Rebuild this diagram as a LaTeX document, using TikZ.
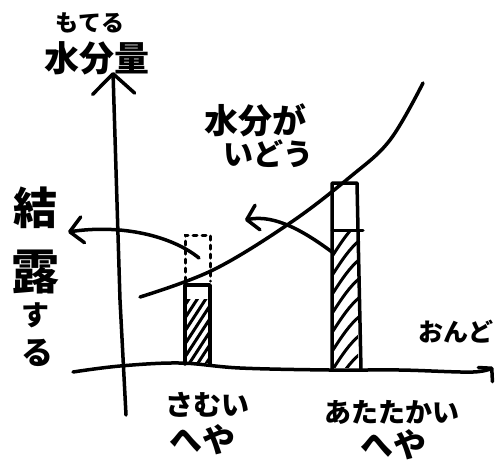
\documentclass[tikz,border=0pt]{standalone}
\usepackage{fontspec}
\newfontfamily\jp{Noto Sans CJK JP}
\usetikzlibrary{arrows.meta}
\begin{document}
\begin{tikzpicture}[x=1pt,y=-1pt,
  ink/.style={line width=3.5pt,line cap=round,line join=round},
  hatchline/.style={line width=3pt,line cap=round},
  dashbox/.style={line width=3pt,dash pattern=on 4pt off 5pt,line cap=round},
  lbl/.style={font=\jp\bfseries,inner sep=0pt,anchor=center}
]
\useasboundingbox[fill=white] (0,0) rectangle (502,467);

% axes
\coordinate (ytop) at (113,72);
\coordinate (ybot) at (126,415);
\draw[ink,-{Straight Barb[length=20pt,width=42pt,round]}] (ybot) -- (120,300) -- (ytop);
\coordinate (xl) at (73,372);
\coordinate (xr) at (493,367);
\draw[ink,-{Straight Barb[length=9pt,width=20pt,round]}] plot[smooth,tension=0.6] coordinates {(xl) (120,366) (180,363) (240,368) (330,370) (400,370) (473,372) (xr)};

% curve
\coordinate (cs) at (140,297);
\coordinate (ce) at (423,83);
\draw[ink] plot[smooth,tension=0.6] coordinates {(cs) (213,270) (290,223) (350,177) (390,140) (ce)};

% cold room bar
\begin{scope}
\clip (186,299) rectangle (209,362);
\foreach \y in {305,318,...,410} \draw[hatchline] (185,\y) -- (211,\y-40);
\end{scope}
\draw[ink] (185,364) -- (185,285) -- (210,285) -- (210,364);
\draw[dashbox] (185,281) -- (185,235) -- (210,235) -- (210,281);

% warm room bar
\begin{scope}
\clip (334,232) rectangle (358,367);
\foreach \y in {255,274,...,420} \draw[hatchline] (333,\y) .. controls (342,\y-14) and (350,\y-26) .. (360,\y-34);
\end{scope}
\draw[ink] (332,370) -- (332,183) -- (357,183) -- (361,370);
\draw[line width=3pt,line cap=round] (332,230) -- (363,230);

% arrows
\coordinate (la0) at (199,258);
\coordinate (la1) at (68,232);
\draw[ink,-{Straight Barb[length=13pt,width=26pt,round]}] (la0) .. controls (172,236) and (122,224) .. (la1);
\coordinate (ma0) at (332,252);
\coordinate (ma1) at (245,220);
\draw[ink,-{Straight Barb[length=11pt,width=25pt,round]}] (ma0) .. controls (305,232) and (275,214) .. (ma1);

% labels
\node[lbl,font=\jp\bfseries\fontsize{23}{23}\selectfont] (motel) at (90,23) {もてる};
\node[lbl,font=\jp\bfseries\fontsize{35}{35}\selectfont] (suibun) at (97,58) {水分量};
\node[lbl,font=\jp\bfseries\fontsize{34}{34}\selectfont] (idou1) at (255,120) {水分が};
\node[lbl,font=\jp\bfseries\fontsize{30}{30}\selectfont] (idou2) at (268,154) {いどう};
\node[lbl,font=\jp\bfseries\fontsize{44}{44}\selectfont] (k1) at (35,208) {結};
\node[lbl,font=\jp\bfseries\fontsize{48}{48}\selectfont] (k2) at (35,272) {露};
\node[lbl,font=\jp\bfseries\fontsize{28}{28}\selectfont] (k3) at (35,315) {す};
\node[lbl,font=\jp\bfseries\fontsize{32}{32}\selectfont] (k4) at (37,353) {る};
\node[lbl,font=\jp\bfseries\fontsize{25}{25}\selectfont] (ondo) at (456,332) {おんど};
\node[lbl,font=\jp\bfseries\fontsize{28}{28}\selectfont] (samui) at (207,405) {さむい};
\node[lbl,font=\jp\bfseries\fontsize{33}{33}\selectfont] (heya1) at (202,440) {へや};
\node[lbl,font=\jp\bfseries\fontsize{27}{27}\selectfont] (atatakai) at (392,412) {あたたかい};
\node[lbl,font=\jp\bfseries\fontsize{33}{33}\selectfont] (heya2) at (393,445) {へや};
\end{tikzpicture}
\end{document}
